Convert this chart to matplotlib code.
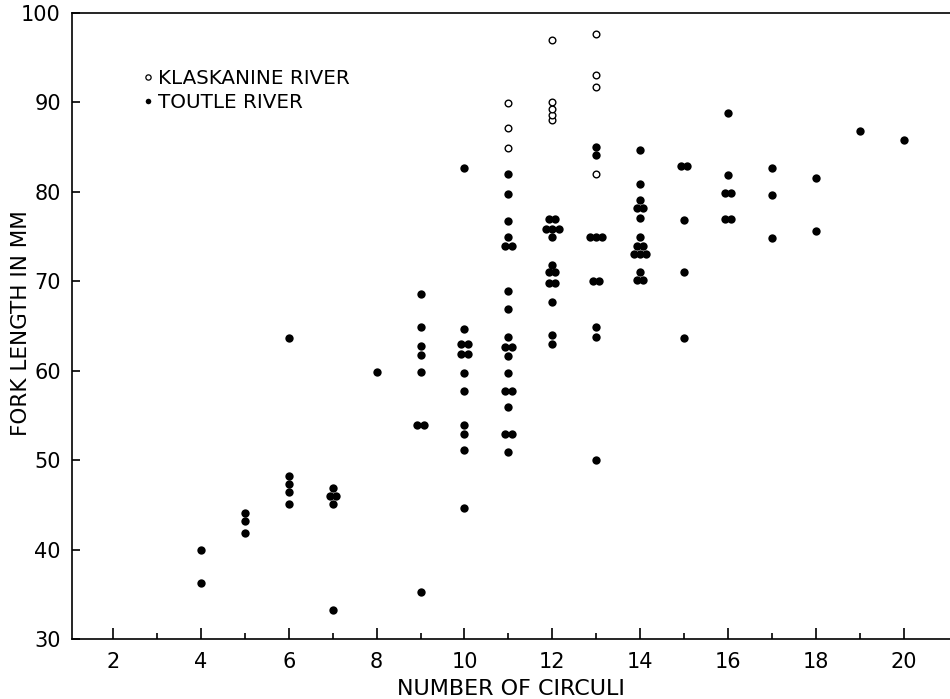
import numpy as np
import matplotlib
matplotlib.use("Agg")
import matplotlib.pyplot as plt
from matplotlib.lines import Line2D

plt.rcParams.update({
    'font.family': ['DejaVu Sans'],
    'axes.linewidth': 1.2,
})

# Fork length (mm) by number of scale circuli, Toutle River fish (filled)
toutle = {
    4: [39.9, 36.3],
    5: [44.1, 43.2, 41.9],
    6: [63.7, 48.2, 47.3, 46.4, 45.1],
    7: [46.9, 46.0, 46.0, 45.1, 33.2],
    8: [59.9],
    9: [68.6, 64.9, 62.8, 61.8, 59.9, 53.9, 53.9, 35.2],
    10: [82.7, 64.7, 63.0, 63.0, 61.9, 61.9, 59.8, 57.7, 53.9, 52.9, 51.1, 44.7],
    11: [82.0, 79.8, 76.7, 75.0, 74.0, 74.0, 68.9, 66.9, 63.8, 62.6, 62.6,
         61.7, 59.8, 57.7, 57.7, 55.9, 52.9, 52.9, 50.9],
    12: [77.0, 77.0, 75.8, 75.8, 75.8, 74.9, 71.8, 71.0, 71.0, 69.8, 69.8,
         67.7, 64.0, 63.0],
    13: [85.0, 84.1, 74.9, 74.9, 74.9, 70.0, 70.0, 64.9, 63.8, 50.0],
    14: [84.7, 80.9, 79.1, 78.2, 78.2, 77.1, 75.0, 73.9, 73.9, 73.0, 73.0,
         73.0, 71.0, 70.1, 70.1],
    15: [82.9, 82.9, 76.9, 71.0, 63.7],
    16: [88.8, 81.9, 79.9, 79.9, 77.0, 77.0],
    17: [82.7, 79.7, 74.8],
    18: [81.5, 75.6],
    19: [86.8],
    20: [85.8],
}

# Klaskanine River fish (open circles)
klaskanine = {
    11: [89.9, 87.1, 84.9],
    12: [97.0, 90.0, 89.3, 88.6, 88.0],
    13: [97.7, 93.1, 91.7, 82.0],
}

x_major = [2, 4, 6, 8, 10, 12, 14, 16, 18, 20]
x_minor = [3, 5, 7, 9, 11, 13, 15, 17, 19]
y_ticks = [30, 40, 50, 60, 70, 80, 90, 100]


def spread(groups, step=0.14):
    # identical readings are set side by side so every fish stays visible
    xs, ys = [], []
    for n, vals in groups.items():
        vals = np.asarray(vals)
        for v in np.unique(vals):
            k = int(np.sum(vals == v))
            for i in range(k):
                xs.append(n + (i - (k - 1) / 2.0) * step)
                ys.append(v)
    return np.array(xs), np.array(ys)


fig = plt.figure(figsize=(9.5, 6.99), dpi=100)
ax = fig.add_axes([72 / 950, 60 / 699, 878 / 950, 626 / 699])

tx, ty = spread(toutle)
kx, ky = spread(klaskanine)
ax.plot(tx, ty, 'o', color='black', markersize=6.0, markeredgewidth=0, linestyle='none')
ax.plot(kx, ky, 'o', markerfacecolor='white', markeredgecolor='black',
        markersize=4.8, markeredgewidth=1.0, linestyle='none')

ax.set_xlim(1.067, 21.05)
ax.set_ylim(30, 100)
ax.spines['right'].set_visible(False)

ax.set_xticks(x_major)
ax.set_xticks(x_minor, minor=True)
ax.set_yticks(y_ticks)
ax.tick_params(axis='x', which='major', direction='in', length=8, width=1.2,
               labelsize=15, pad=9)
ax.tick_params(axis='x', which='minor', direction='in', length=4, width=1.2)
ax.tick_params(axis='y', which='major', direction='in', length=6, width=1.2,
               labelsize=15, pad=8)

ax.set_xlabel('NUMBER OF CIRCULI', fontsize=16)
ax.set_ylabel('FORK LENGTH IN MM', fontsize=15.5)
ax.xaxis.set_label_coords(0.5, -0.064)
ax.yaxis.set_label_coords(-0.047, 0.505)

handles = [
    Line2D([], [], marker='o', linestyle='none', markerfacecolor='white',
           markeredgecolor='black', markersize=3.8, markeredgewidth=0.9),
    Line2D([], [], marker='o', linestyle='none', color='black',
           markersize=4.0, markeredgewidth=0),
]
ax.legend(handles, ['KLASKANINE RIVER', 'TOUTLE RIVER'], loc='upper left',
          bbox_to_anchor=(0.069, 0.927), frameon=False, fontsize=14.3,
          handlelength=0.6, handletextpad=0.2, labelspacing=0.25, borderpad=0)

fig.savefig('out.png', dpi=100)
